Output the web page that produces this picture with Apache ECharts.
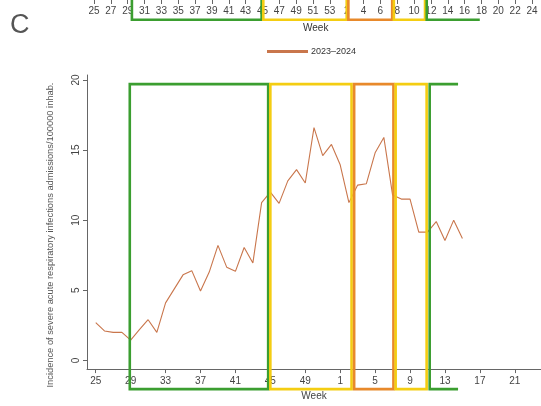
<!DOCTYPE html>
<html>
<head>
<meta charset="utf-8">
<script src="https://cdn.jsdelivr.net/npm/echarts@6/dist/echarts.min.js"></script>
<style>
html,body{margin:0;padding:0;background:#fff;}
#chart{width:541px;height:406px;}
</style>
</head>
<body>
<div id="chart"></div>
<script>
// Season weeks (main panel axis), 2023-2024 season
const weeks = [25,26,27,28,29,30,31,32,33,34,35,36,37,38,39,40,41,42,43,44,45,46,47,48,49,50,51,52,
               1,2,3,4,5,6,7,8,9,10,11,12,13,14,15,16,17,18,19,20,21,22,23,24];
const incidence = [2.7,2.1,2.0,2.0,1.45,2.2,2.9,2.0,4.1,5.1,6.1,6.4,4.95,6.3,8.2,6.65,6.35,8.05,6.95,11.25,
                   12.0,11.2,12.8,13.6,12.65,16.6,14.6,15.4,13.95,11.25,12.5,12.6,14.8,15.9,11.8,11.5,11.5,
                   9.15,9.15,9.9,8.55,10.0,8.7];
const seriesName = '2023\u20132024';
const xTickWeeks = [25,29,33,37,41,45,49,1,5,9,13,17,21];
const yTicks = [0,5,10,15,20];
// epidemic phases (week positions on the main axis)
const phaseStart = [3.9, 20.0, 29.6, 34.35, 38.25];
const phaseEnd   = [19.75, 29.3, 34.1, 37.9, 41.5];
const phaseOpen  = [0, 0, 0, 0, 1];
// strip from the panel above (cropped)
const stripWeeks = [25,26,27,28,29,30,31,32,33,34,35,36,37,38,39,40,41,42,43,44,45,46,47,48,49,50,51,52,53,
                    1,2,3,4,5,6,7,8,9,10,11,12,13,14,15,16,17,18,19,20,21,22,23,24];
const stripTickWeeks = [25,27,29,31,33,35,37,39,41,43,45,47,49,51,53,2,4,6,8,10,12,14,16,18,20,22,24];
const stripStart = [4.5, 20.1, 30.2, 35.6, 39.5];
const stripEnd   = [19.9, 30.0, 35.4, 39.3, 45.8];

const phaseColors = ['#3b9e30', '#f4cd12', '#e8892b', '#f4cd12', '#3b9e30'];
const FONT = '"Liberation Sans", Arial, sans-serif';

function weekIndex(w) { return weeks.indexOf(w); }
function stripIndex(w) { return stripWeeks.indexOf(w); }

function boxRender(params, api) {
  const x0 = api.value(0), x1 = api.value(1), yT = api.value(2), yB = api.value(3), open = api.value(4);
  const p0 = api.coord([x0, yT]);
  const p1 = api.coord([x1, yB]);
  const color = phaseColors[params.dataIndex];
  if (open) {
    return {type:'polyline', shape:{points:[[p1[0],p0[1]],[p0[0],p0[1]],[p0[0],p1[1]],[p1[0],p1[1]]]},
            style:{stroke:color, fill:null, lineWidth:2.6}};
  }
  return {type:'rect', shape:{x:p0[0], y:p0[1], width:p1[0]-p0[0], height:p1[1]-p0[1]},
          style:{stroke:color, fill:null, lineWidth:2.6}};
}

const mainBoxes = phaseStart.map((s,i) => [s, phaseEnd[i], 19.7, -2.05, phaseOpen[i]]);
const stripBoxes = stripStart.map((s,i) => [s, stripEnd[i], 1.6, 0.01, i === stripStart.length-1 ? 1 : 0]);

const chart = echarts.init(document.getElementById('chart'), null, {renderer:'canvas'});
chart.setOption({
  animation: false,
  backgroundColor: '#fff',
  textStyle: {fontFamily: FONT},
  title: {text: 'C', left: 5, top: 7, textStyle: {fontSize: 27, fontWeight: 'normal', color: '#555', fontFamily: FONT}},
  graphic: [{type:'text', left: 303, top: 23, style:{text:'Week', fontSize: 10, fill:'#333', fontFamily: FONT}}],
  legend: {
    data: [seriesName], left: 262, top: 42, itemWidth: 41, itemHeight: 3, icon: 'rect', itemGap: 6,
    textStyle: {fontSize: 9, color: '#333', fontFamily: FONT, padding: [0,0,0,-2]}
  },
  grid: [
    {left: 87, right: 0, top: 75, bottom: 31, containLabel: false},
    {left: 94, right: 9, top: 0, height: 20}
  ],
  xAxis: [
    {
      gridIndex: 0, type: 'value', min: -1, max: 51,
      name: 'Week', nameLocation: 'middle', nameGap: 21,
      nameTextStyle: {fontSize: 10, color: '#444', fontFamily: FONT},
      axisLine: {show: true, onZero: false, lineStyle: {color: '#666', width: 1}},
      axisTick: {show: true, length: 4, lineStyle: {color: '#666'}, customValues: xTickWeeks.map(weekIndex)},
      axisLabel: {show: true, fontSize: 10, color: '#444', margin: 7, customValues: xTickWeeks.map(weekIndex),
                  formatter: v => String(weeks[Math.round(v)])},
      splitLine: {show: false}
    },
    {
      gridIndex: 1, type: 'value', min: 0, max: stripWeeks.length - 1, position: 'top',
      axisLine: {show: false, onZero: false},
      axisTick: {show: true, inside: true, length: 4, lineStyle: {color: '#666'}, customValues: stripTickWeeks.map(stripIndex)},
      axisLabel: {show: true, inside: true, margin: 6, fontSize: 10, color: '#444', customValues: stripTickWeeks.map(stripIndex),
                  formatter: v => String(stripWeeks[Math.round(v)])},
      splitLine: {show: false}
    }
  ],
  yAxis: [
    {
      gridIndex: 0, type: 'value', min: -0.62, max: 20.35,
      name: 'Incidence of severe acute respiratory infections admissions/100000 inhab.',
      nameLocation: 'middle', nameGap: 32,
      nameTextStyle: {fontSize: 9.3, color: '#555', fontFamily: FONT, padding: [0, 0, 0, -26]},
      axisLine: {show: true, onZero: false, lineStyle: {color: '#666', width: 1}},
      axisTick: {show: true, length: 4, lineStyle: {color: '#666'}, customValues: yTicks},
      axisLabel: {show: true, rotate: 90, fontSize: 10, color: '#444', margin: 6, customValues: yTicks},
      splitLine: {show: false}
    },
    {gridIndex: 1, type: 'value', min: 0, max: 1, show: false, axisLine: {onZero: false}}
  ],
  series: [
    {
      name: seriesName, type: 'line', xAxisIndex: 0, yAxisIndex: 0,
      data: incidence.map((v,i) => [i, v]),
      showSymbol: false, symbol: 'none',
      lineStyle: {color: '#c9764c', width: 1.1},
      itemStyle: {color: '#c9764c'},
      z: 2
    },
    {
      type: 'custom', xAxisIndex: 0, yAxisIndex: 0, renderItem: boxRender,
      data: mainBoxes, clip: false, silent: true, z: 3
    },
    {
      type: 'custom', xAxisIndex: 1, yAxisIndex: 1, renderItem: boxRender,
      data: stripBoxes, clip: false, silent: true, z: 3
    }
  ]
});
</script>
</body>
</html>
